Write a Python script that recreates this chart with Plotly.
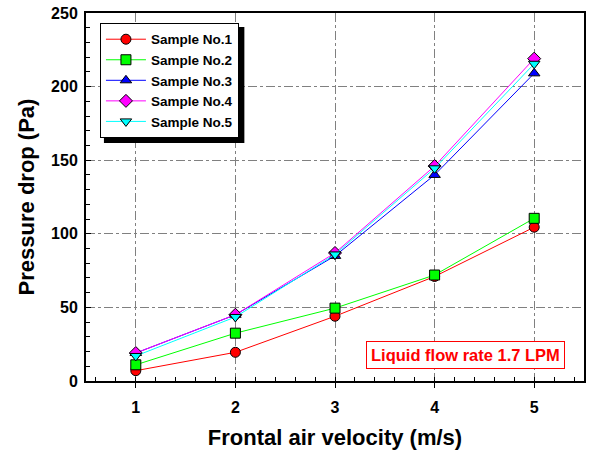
import plotly.graph_objects as go

velocity = [1, 2, 3, 4, 5]
sample1 = [7, 19.5, 44, 71, 104.5]
sample2 = [11, 32.5, 49.5, 72, 110.5]
sample3 = [19, 45, 85, 140, 209]
sample4 = [19, 45, 87, 146, 219]
sample5 = [17, 43.5, 86, 144.5, 215.5]

names = ["Sample No.1", "Sample No.2", "Sample No.3", "Sample No.4", "Sample No.5"]
series = [sample1, sample2, sample3, sample4, sample5]
colors = ["#ff0000", "#00ff00", "#0000ff", "#ff00ff", "#00ffff"]
symbols = ["circle", "square", "triangle-up", "diamond", "triangle-down"]

fig = go.Figure()
for n, s, c, m in zip(names, series, colors, symbols):
    fig.add_trace(go.Scatter(
        x=velocity, y=s, name=n, mode="lines+markers",
        line=dict(color=c, width=1),
        marker=dict(symbol=m, size=10, color=c, line=dict(color="black", width=1)),
    ))

font = "Liberation Sans, Arial, sans-serif"
fig.update_layout(
    width=590, height=450,
    margin=dict(l=86, r=4, t=13, b=69),
    paper_bgcolor="white", plot_bgcolor="white",
    font=dict(family=font, color="black"),
    showlegend=True,
    legend=dict(
        x=0.028, y=0.973, xanchor="left", yanchor="top",
        bgcolor="white", bordercolor="black", borderwidth=1,
        font=dict(family=font, size=13.5, color="black", weight="bold"),
        tracegroupgap=0, itemwidth=40,
    ),
    xaxis=dict(
        range=[0.5, 5.5], tickvals=[1, 2, 3, 4, 5],
        showline=True, linecolor="black", linewidth=2, mirror=True,
        ticks="outside", ticklen=5, tickwidth=1, tickcolor="black",
        minor=dict(dtick=0.2, ticks="inside", ticklen=4, tickcolor="black", showgrid=False),
        showgrid=True, gridcolor="#808080", griddash="dashdot", gridwidth=1,
        zeroline=False, ticklabelstandoff=6,
        tickfont=dict(size=16, weight="bold"),
        title=dict(text="Frontal air velocity (m/s)", font=dict(size=22, weight="bold"), standoff=14),
    ),
    yaxis=dict(
        range=[0, 250], tickvals=[0, 50, 100, 150, 200, 250],
        showline=True, linecolor="black", linewidth=2, mirror=True,
        ticks="inside", ticklen=5, tickwidth=1, tickcolor="black",
        minor=dict(dtick=10, ticks="inside", ticklen=4, tickcolor="black", showgrid=False),
        showgrid=True, gridcolor="#808080", griddash="dashdot", gridwidth=1,
        zeroline=False, ticklabelstandoff=3,
        tickfont=dict(size=16, weight="bold"),
        title=dict(text="Pressure drop (Pa)", font=dict(size=22, weight="bold"), standoff=10),
    ),
    shapes=[
        dict(type="rect", xref="paper", yref="paper",
             x0=0.036, x1=0.318, y0=0.647, y1=0.962,
             fillcolor="black", line=dict(width=0), layer="above"),
    ],
    annotations=[
        dict(text="Liquid flow rate 1.7 LPM", xref="paper", yref="paper",
             x=0.762, y=0.071, xanchor="center", yanchor="middle", showarrow=False,
             font=dict(family=font, size=16.5, color="#ff0000", weight="bold"),
             bordercolor="#ff0000", borderwidth=1, borderpad=4, bgcolor="white"),
    ],
)

fig.write_html("out.html", config={"displayModeBar": False},
               post_script="document.body.style.margin='0';document.body.style.overflow='hidden';")
